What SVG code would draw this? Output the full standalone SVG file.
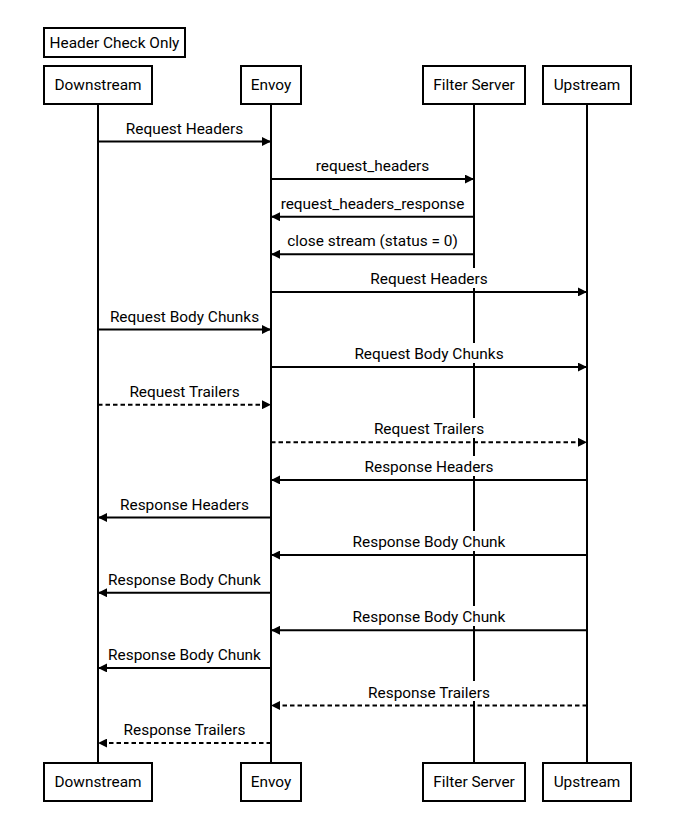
<svg xmlns="http://www.w3.org/2000/svg" width="681" height="823" viewBox="0 0 681 823">
<style>
text{font-family:Roboto,"Liberation Sans",sans-serif;font-size:15.4px;fill:#000}
.box{fill:#fff;stroke:#000;stroke-width:2}
.life{stroke:#000;stroke-width:2}
.msg{stroke:#000;stroke-width:2;fill:none}
.dash{stroke-dasharray:4.5,3}
.bg{fill:#fff}
.c{text-anchor:middle}
</style>
<defs>
<marker id="ah" viewBox="0 0 10 10" refX="10" refY="5" markerWidth="10" markerHeight="9" markerUnits="userSpaceOnUse" orient="auto">
<path d="M0,0 L10,5 L0,10 z" fill="#000"/>
</marker>
</defs>
<rect width="681" height="823" fill="#fff"/>
<g id="title">
<rect class="box" x="44" y="28" width="141" height="29"/>
<text x="114.5" y="48" class="c">Header Check Only</text>
</g>
<g id="lifelines">
<line class="life" x1="98" y1="104" x2="98" y2="763"/>
<line class="life" x1="271" y1="104" x2="271" y2="763"/>
<line class="life" x1="474" y1="104" x2="474" y2="763"/>
<line class="life" x1="587" y1="104" x2="587" y2="763"/>
</g>
<g id="downstream">
<rect class="box" x="44" y="66" width="108" height="38"/>
<text x="98" y="90" class="c">Downstream</text>
<rect class="box" x="44" y="763" width="108" height="38"/>
<text x="98" y="787" class="c">Downstream</text>
</g>
<g id="envoy">
<rect class="box" x="241" y="66" width="60" height="38"/>
<text x="271" y="90" class="c">Envoy</text>
<rect class="box" x="241" y="763" width="60" height="38"/>
<text x="271" y="787" class="c">Envoy</text>
</g>
<g id="filter-server">
<rect class="box" x="423" y="66" width="102" height="38"/>
<text x="474" y="90" class="c">Filter Server</text>
<rect class="box" x="423" y="763" width="102" height="38"/>
<text x="474" y="787" class="c">Filter Server</text>
</g>
<g id="upstream">
<rect class="box" x="543" y="66" width="88" height="38"/>
<text x="587" y="90" class="c">Upstream</text>
<rect class="box" x="543" y="763" width="88" height="38"/>
<text x="587" y="787" class="c">Upstream</text>
</g>
<g id="label-backgrounds">
<rect class="bg" x="369" y="268" width="120" height="20"/>
<rect class="bg" x="353" y="343" width="152" height="20"/>
<rect class="bg" x="371" y="418" width="116" height="20"/>
<rect class="bg" x="365" y="456" width="128" height="20"/>
<rect class="bg" x="351" y="531" width="156" height="20"/>
<rect class="bg" x="351" y="606" width="156" height="20"/>
<rect class="bg" x="367" y="681" width="124" height="20"/>
</g>
<g id="connectors">
<line class="msg" x1="98" y1="141.5" x2="271" y2="141.5" marker-end="url(#ah)"/>
<line class="msg" x1="271" y1="179.1" x2="474" y2="179.1" marker-end="url(#ah)"/>
<line class="msg" x1="474" y1="216.7" x2="271" y2="216.7" marker-end="url(#ah)"/>
<line class="msg" x1="474" y1="254.3" x2="271" y2="254.3" marker-end="url(#ah)"/>
<line class="msg" x1="271" y1="291.9" x2="587" y2="291.9" marker-end="url(#ah)"/>
<line class="msg" x1="98" y1="329.5" x2="271" y2="329.5" marker-end="url(#ah)"/>
<line class="msg" x1="271" y1="367.1" x2="587" y2="367.1" marker-end="url(#ah)"/>
<line class="msg dash" x1="98" y1="404.7" x2="271" y2="404.7" marker-end="url(#ah)"/>
<line class="msg dash" x1="271" y1="442.3" x2="587" y2="442.3" marker-end="url(#ah)"/>
<line class="msg" x1="587" y1="479.9" x2="271" y2="479.9" marker-end="url(#ah)"/>
<line class="msg" x1="271" y1="517.5" x2="98" y2="517.5" marker-end="url(#ah)"/>
<line class="msg" x1="587" y1="555.1" x2="271" y2="555.1" marker-end="url(#ah)"/>
<line class="msg" x1="271" y1="592.7" x2="98" y2="592.7" marker-end="url(#ah)"/>
<line class="msg" x1="587" y1="630.3" x2="271" y2="630.3" marker-end="url(#ah)"/>
<line class="msg" x1="271" y1="667.9" x2="98" y2="667.9" marker-end="url(#ah)"/>
<line class="msg dash" x1="587" y1="705.5" x2="271" y2="705.5" marker-end="url(#ah)"/>
<line class="msg dash" x1="271" y1="743.1" x2="98" y2="743.1" marker-end="url(#ah)"/>
</g>
<g id="labels">
<text x="184.5" y="133.5" class="c">Request Headers</text>
<text x="372.5" y="171.1" class="c">request_headers</text>
<text x="372.5" y="208.7" class="c">request_headers_response</text>
<text x="372.5" y="246.3" class="c">close stream (status = 0)</text>
<text x="429" y="283.9" class="c">Request Headers</text>
<text x="184.5" y="321.5" class="c">Request Body Chunks</text>
<text x="429" y="359.1" class="c">Request Body Chunks</text>
<text x="184.5" y="396.7" class="c">Request Trailers</text>
<text x="429" y="434.3" class="c">Request Trailers</text>
<text x="429" y="471.9" class="c">Response Headers</text>
<text x="184.5" y="509.5" class="c">Response Headers</text>
<text x="429" y="547.1" class="c">Response Body Chunk</text>
<text x="184.5" y="584.7" class="c">Response Body Chunk</text>
<text x="429" y="622.3" class="c">Response Body Chunk</text>
<text x="184.5" y="659.9" class="c">Response Body Chunk</text>
<text x="429" y="697.5" class="c">Response Trailers</text>
<text x="184.5" y="735.1" class="c">Response Trailers</text>
</g>
</svg>
